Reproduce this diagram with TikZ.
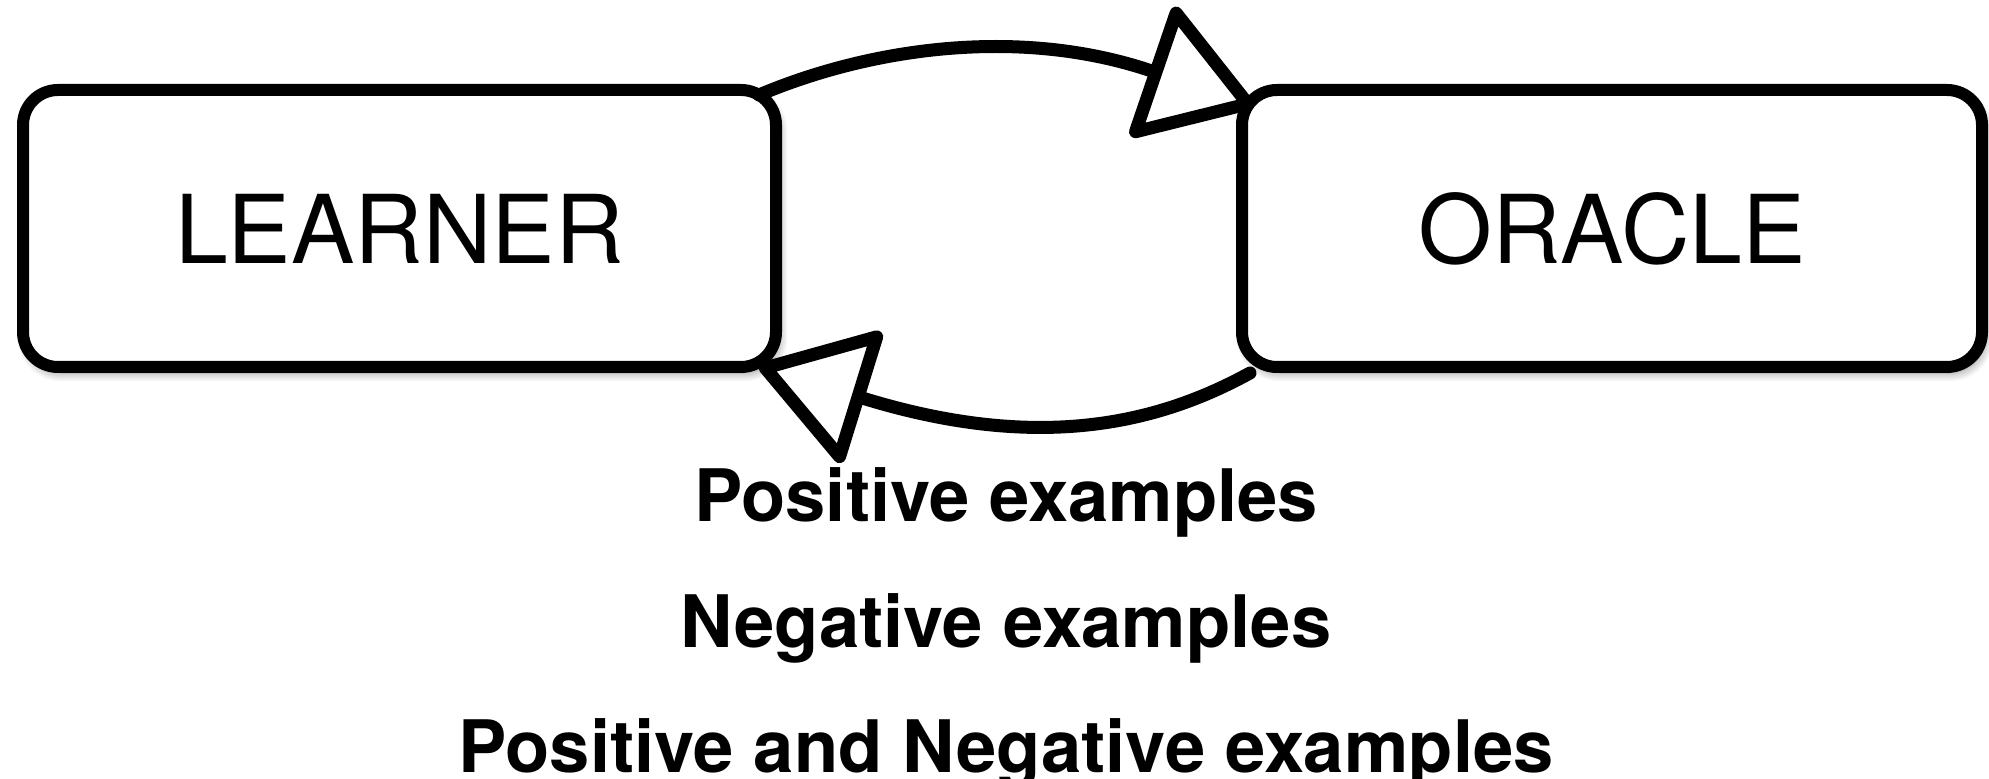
\documentclass[tikz,border=0pt]{standalone}
\usepackage{fontspec}
\setmainfont{TeX Gyre Heros}
\usetikzlibrary{arrows.meta,shadows.blur}
\begin{document}
\begin{tikzpicture}[x=0.5pt,y=-0.5pt,
  agent/.style={draw, line width=6pt, rounded corners=17.5pt, fill=white,
    inner sep=0pt, outer sep=0pt, minimum height=138.5pt,
    font=\fontsize{47.5pt}{57pt}\selectfont,
    blur shadow={shadow xshift=1.5pt, shadow yshift=-3pt,
      shadow blur radius=4.5pt, shadow blur steps=12, shadow opacity=45}},
  flow/.style={line width=6.5pt, line cap=round, line join=round,
    -{Triangle[open, length=58pt, width=73pt, round]}},
  caption/.style={anchor=base, inner sep=0pt,
    font=\fontsize{36.2pt}{43pt}\selectfont\bfseries}]
\useasboundingbox (0,0) rectangle (1989,779);

% the two parties
\node[agent, minimum width=376.5pt] (learner) at (399.5,228.5) {LEARNER};
\node[agent, minimum width=370pt] (oracle) at (1612,228.5) {ORACLE};

% query from learner to oracle, answer back
\draw[flow] ([shift={(-17,5)}]learner.north east)
  .. controls (870,48) and (1020,26) .. ([shift={(12,16)}]oracle.north west);
\draw[flow] ([shift={(8,6)}]oracle.south west)
  .. controls (1150,428) and (1030,450) .. ([shift={(-17,-1)}]learner.south east);

% kinds of answers
\node[caption] (pos)  at (1006,522) {Positive examples};
\node[caption] (neg)  at (1006,647) {Negative examples};
\node[caption] (both) at (1006,772) {Positive and Negative examples};
\end{tikzpicture}
\end{document}
